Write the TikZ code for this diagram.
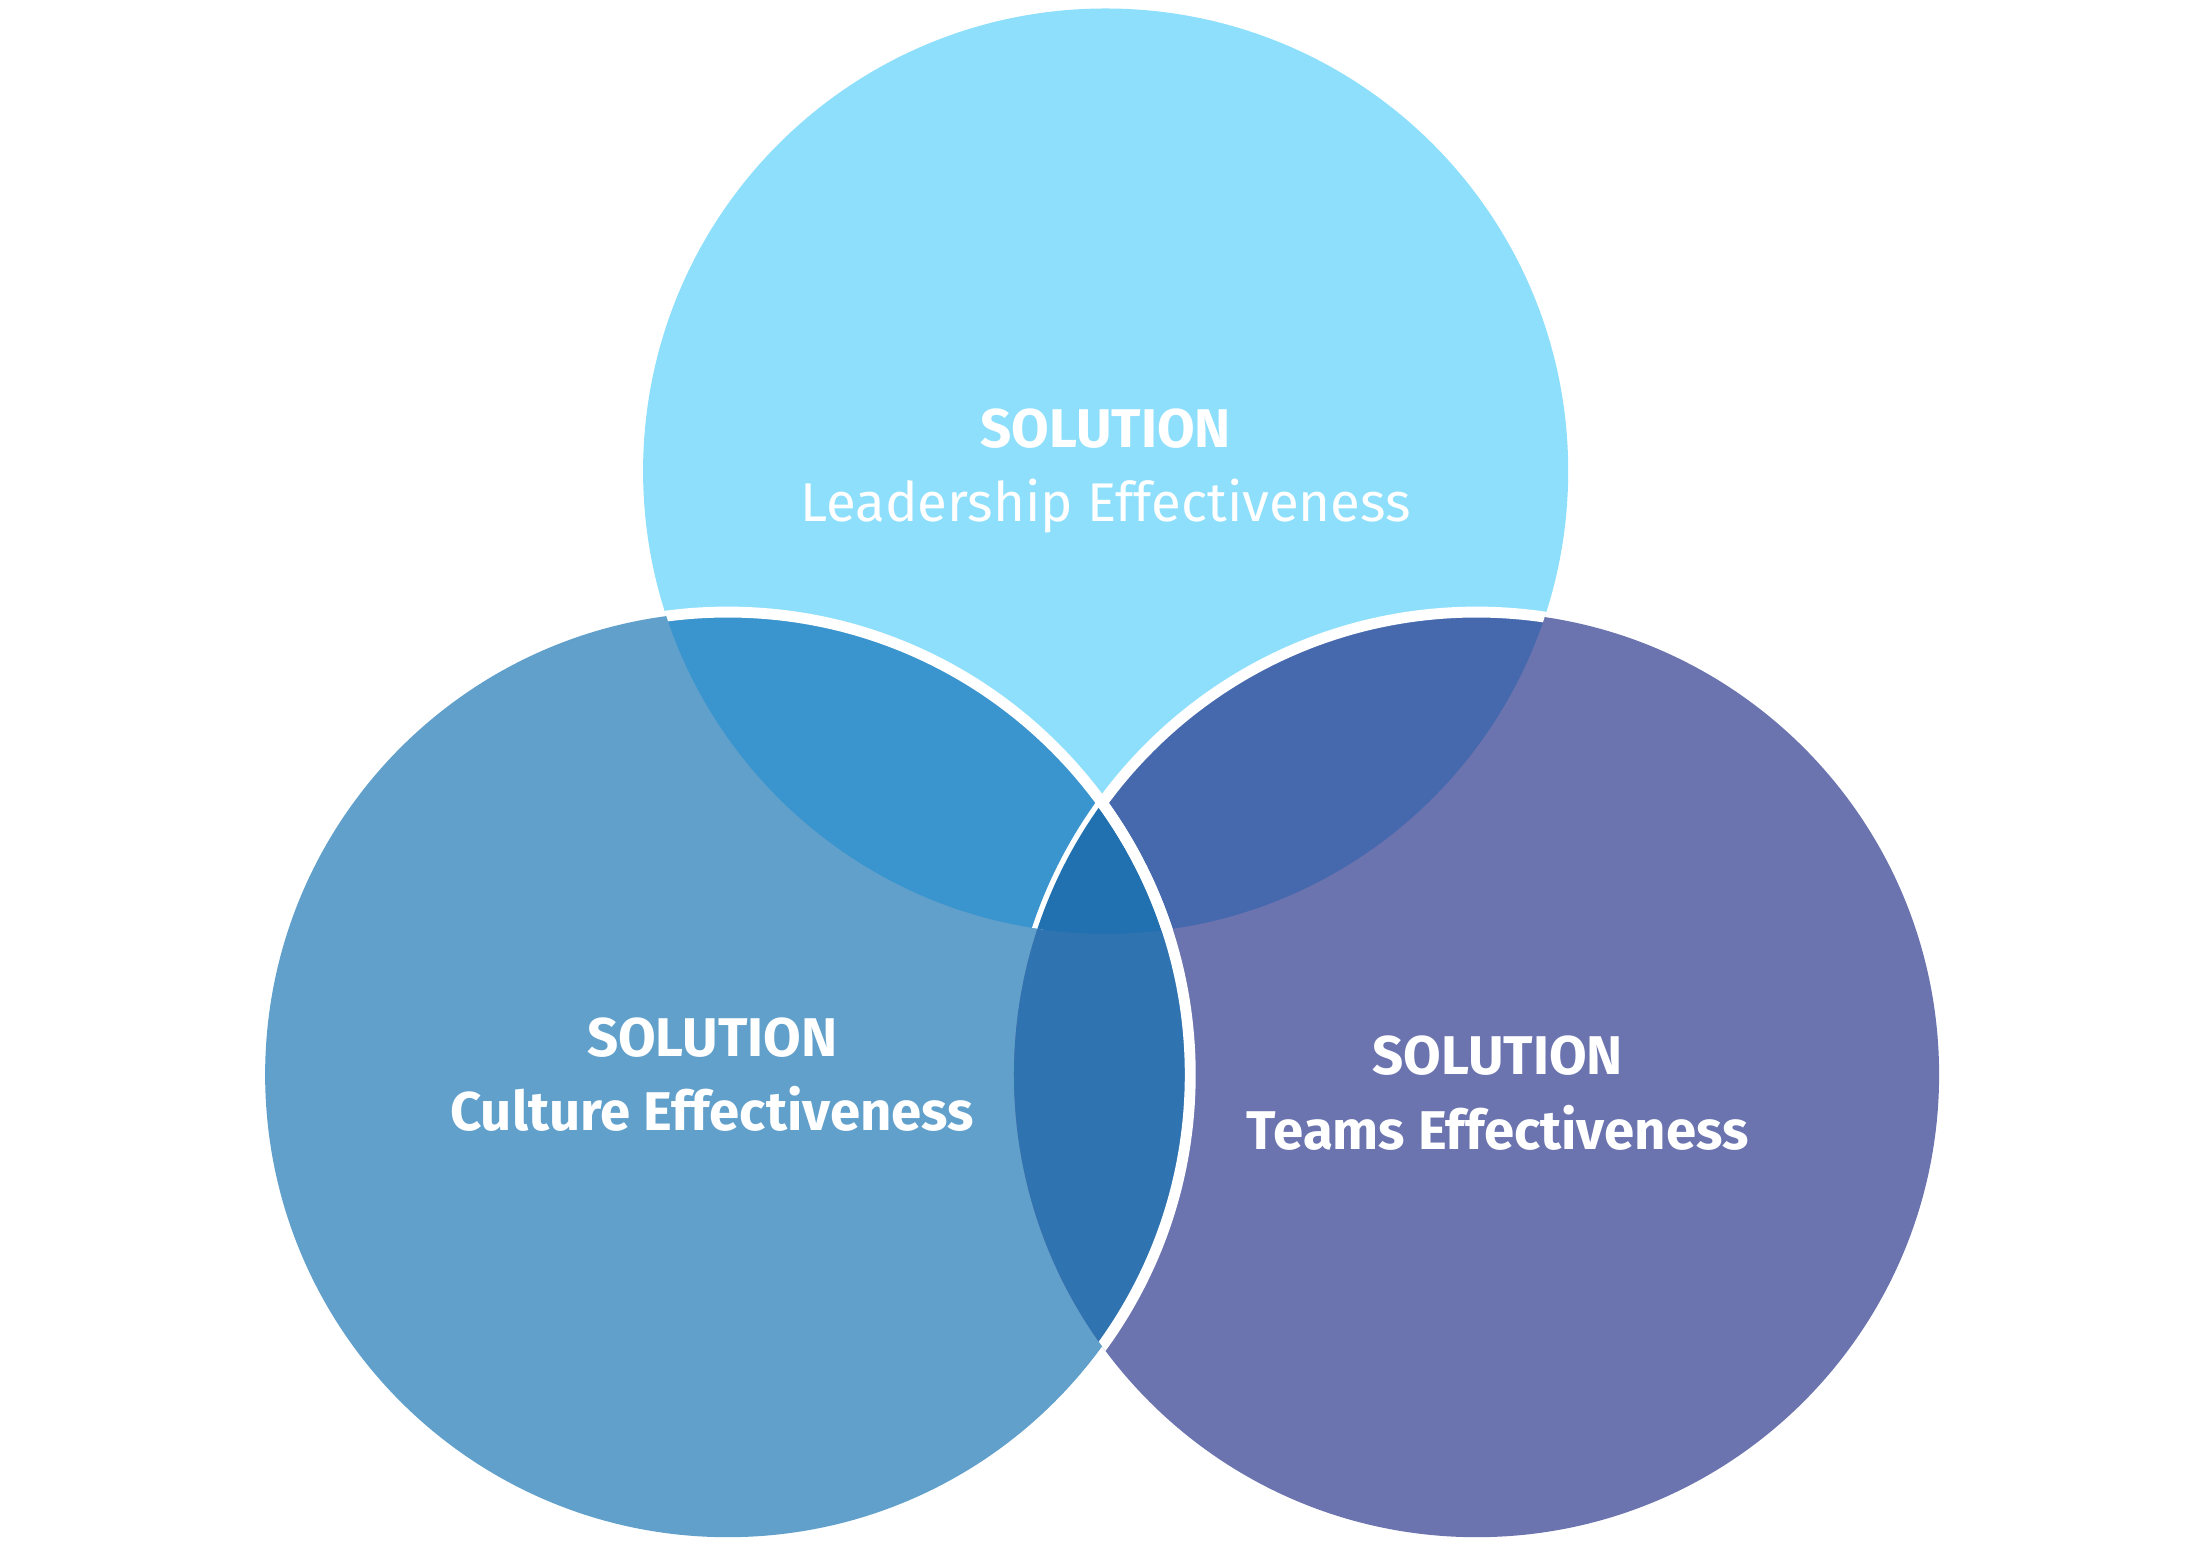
\documentclass[tikz,border=0pt]{standalone}
\usepackage{fontspec}
\setmainfont{Fira Sans}
\definecolor{cT}{HTML}{8EDFFC}
\definecolor{cL}{HTML}{61A0CB}
\definecolor{cR}{HTML}{6B74AE}
\definecolor{cLT}{HTML}{3A94CE}
\definecolor{cTR}{HTML}{4669AE}
\definecolor{cLR}{HTML}{2F73B0}
\definecolor{cLTR}{HTML}{2170B0}
\begin{document}
\begin{tikzpicture}[x=0.01cm,y=-0.01cm,
  lbl/.style={text=white,align=center,font=\fontsize{11}{15}\selectfont},
  rim/.style={draw=white,line width=2.2pt}]
\useasboundingbox (0,0) rectangle (1560,1102);
\def\T{(784,334) circle (328)}
\def\L{(516,762) circle (328)}
\def\R{(1047,762) circle (328)}
\fill[cT] \T; \fill[cL] \L; \fill[cR] \R;
\begin{scope}\clip \L; \fill[cLT] \T; \end{scope}
\begin{scope}\clip \T; \fill[cTR] \R; \end{scope}
\begin{scope}\clip \L; \fill[cLR] \R; \end{scope}
\begin{scope}\clip \L; \clip \T; \fill[cLTR] \R; \end{scope}
\begin{scope}\clip \T; \draw[rim] \R; \end{scope}
\begin{scope}\clip \L; \clip \T; \fill[cLTR] \R; \end{scope}
\begin{scope}\clip \T; \draw[rim] \L; \end{scope}
\begin{scope}\clip \R; \draw[rim] \L; \end{scope}
\node[lbl] (nt) at (784,334) {\textbf{SOLUTION}\\Leadership Effectiveness};
\node[lbl] (nl) at (505,762) {\textbf{SOLUTION}\\\textbf{Culture Effectiveness}};
\node[lbl] (nr) at (1062,775) {\textbf{SOLUTION}\\\textbf{Teams Effectiveness}};
\end{tikzpicture}
\end{document}
